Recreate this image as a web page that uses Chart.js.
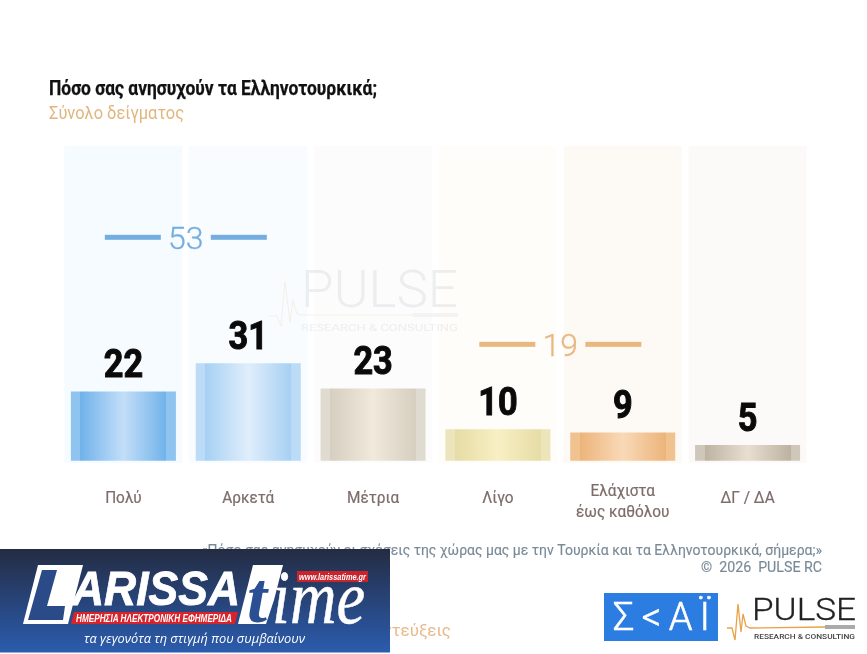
<!DOCTYPE html>
<html>
<head>
<meta charset="utf-8">
<style>
  html, body { margin: 0; padding: 0; background: #fff; }
  #wrap { position: relative; width: 867px; height: 654px; overflow: hidden; }
  #chart { position: absolute; left: 0; top: 0; }
  #overlay { position: absolute; left: 0; top: 0; }
</style>
<script src="https://cdn.jsdelivr.net/npm/chart.js@4"></script>
</head>
<body>
<div id="wrap">
  <canvas id="chart" width="867" height="654"></canvas>
  <svg id="overlay" width="867" height="654" viewBox="0 0 867 654" font-family="Roboto">
    <defs>
      <linearGradient id="bannerFill" x1="0" y1="0" x2="0" y2="1">
        <stop offset="0" stop-color="#242c43"/>
        <stop offset="1" stop-color="#2b5cae"/>
      </linearGradient>
    </defs>

    <!-- title -->
    <text x="49" y="95" font-size="20" font-weight="700" fill="#111" stroke="#111" stroke-width="0.25" textLength="328" lengthAdjust="spacingAndGlyphs">Πόσο σας ανησυχούν τα Ελληνοτουρκικά;</text>
    <text x="49" y="119" font-size="18.5" fill="#e0b67e" textLength="135" lengthAdjust="spacingAndGlyphs">Σύνολο δείγματος</text>

    <!-- watermark -->
    <g opacity="0.55">
      <text x="301" y="307" font-size="52" font-weight="300" fill="#dfe0e2" textLength="157" lengthAdjust="spacingAndGlyphs">PULSE</text>
      <polyline points="268,316 277,316 281,326 285,282 290,322 293,300 297,314 302,315 413,315" fill="none" stroke="#f3e3cf" stroke-width="1"/>
      <rect x="413" y="313" width="45" height="4" fill="#ebebeb"/>
      <text x="301" y="331" font-size="9" font-weight="400" fill="#e2e2e2" textLength="157" lengthAdjust="spacingAndGlyphs">RESEARCH &amp; CONSULTING</text>
    </g>

    <!-- footer -->
    <text x="822" y="555" text-anchor="end" font-size="15" fill="#7a8a97" stroke="#7a8a97" stroke-width="0.15" textLength="621" lengthAdjust="spacingAndGlyphs">«Πόσο σας ανησυχούν οι σχέσεις της χώρας μας με την Τουρκία και τα Ελληνοτουρκικά, σήμερα;»</text>
    <text x="822" y="572" text-anchor="end" font-size="15" fill="#7a8a97" stroke="#7a8a97" stroke-width="0.15" xml:space="preserve" textLength="121" lengthAdjust="spacingAndGlyphs">©  2026  PULSE RC</text>
    <text x="451" y="636" text-anchor="end" font-size="17" fill="#eab98a">1.000 συνεντεύξεις</text>

    <!-- banner -->
    <rect x="0" y="549" width="390" height="103.5" fill="url(#bannerFill)"/>
    <polygon points="38,565 83,565 68,624 23,624" fill="#fff"/>
    <polygon points="42,570 57,570 47,606 65,606 63,620 28,620" fill="#2a4a88"/>
    <text x="72" y="605" font-family="Liberation Sans" font-style="italic" font-weight="700" font-size="49" fill="#fff" stroke="#fff" stroke-width="0.8" textLength="168" lengthAdjust="spacingAndGlyphs">ARISSA</text>
    <polygon points="253,565 283,565 274,600 266,624 238,624" fill="#fff"/>
    <text x="247" y="622" font-family="Liberation Serif" font-style="italic" font-weight="700" font-size="72" fill="#2a4f92">t</text>
    <text x="272" y="623" font-family="Liberation Serif" font-style="italic" font-size="76" fill="#fff" stroke="#fff" stroke-width="0.5" textLength="93" lengthAdjust="spacingAndGlyphs">ime</text>
    <polygon points="74,612 238,612 235,624 71,624" fill="#d8232a"/>
    <text x="76" y="622" font-family="Liberation Sans" font-style="italic" font-weight="700" font-size="10" fill="#fff" textLength="156" lengthAdjust="spacingAndGlyphs">ΗΜΕΡΗΣΙΑ ΗΛΕΚΤΡΟΝΙΚΗ ΕΦΗΜΕΡΙΔΑ</text>
    <rect x="297" y="571" width="71" height="11" fill="#c9232c"/>
    <text x="299" y="579.5" font-family="Liberation Sans" font-style="italic" font-weight="700" font-size="8.5" fill="#fff" textLength="67" lengthAdjust="spacingAndGlyphs">www.larissatime.gr</text>
    <text x="84" y="643" font-family="Open Sans" font-style="italic" font-size="13" fill="#fff" textLength="221" lengthAdjust="spacingAndGlyphs">τα γεγονότα τη στιγμή που συμβαίνουν</text>

    <!-- SKAI logo -->
    <rect x="604" y="593" width="114" height="48" fill="#2c7de2"/>
    <text x="613" y="630" font-size="38" font-weight="300" fill="#fff" stroke="#fff" stroke-width="0.6" textLength="97" lengthAdjust="spacing">Σ&lt;ΑΪ</text>

    <!-- PULSE logo -->
    <text x="752" y="620" font-size="32" font-weight="300" fill="#222" stroke="#222" stroke-width="0.3" textLength="104" lengthAdjust="spacingAndGlyphs">PULSE</text>
    <polyline points="727,628 732,628 735,640 738,604 741,632 743,614 746,626 750,628 825,627" fill="none" stroke="#e8a24a" stroke-width="1.3"/>
    <rect x="825" y="625" width="30" height="4" fill="#aaa"/>
    <text x="754" y="639" font-size="7.5" font-weight="500" fill="#444" textLength="101" lengthAdjust="spacingAndGlyphs">RESEARCH &amp; CONSULTING</text>
  </svg>
</div>

<script>
// chart data
const categories = [['Πολύ'], ['Αρκετά'], ['Μέτρια'], ['Λίγο'], ['Ελάχιστα', 'έως καθόλου'], ['ΔΓ / ΔΑ']];
const values = [22, 31, 23, 10, 9, 5];
const panelValues = [100, 100, 100, 100, 100, 100];
const groupTotals = [53, 19];

// styles, edge / dark / centre of each bar
const barColors = [
    ['#8fc4f0', '#70b2ea', '#c3def8'],
    ['#bcdbf6', '#a6d0f3', '#e0eefb'],
    ['#e0dbd0', '#d6cfc0', '#f0e9dc'],
    ['#ece4ba', '#e6dca6', '#f8efc4'],
    ['#f0c290', '#ecb47a', '#f9d9b8'],
    ['#cfc7ba', '#bdb2a2', '#e8dfd0']
];
const panelColors = ['#f6fbff', '#f8fcff', '#fcfcfc', '#fffdf9', '#fdfaf6', '#fcfaf8'];
const groupColors = ['#74aee0', '#e8b880'];
const groupLevels = [71, 37];   // height of each bracket on the value axis
const groupMembers = [[0, 1], [3, 4]];

const barRatio = 105 / 124.8;

function barGradient(context) {
    const chart = context.chart;
    const colors = barColors[context.dataIndex];
    if (!chart.chartArea || !chart.scales.x) return colors[1];
    const xScale = chart.scales.x;
    const center = xScale.getPixelForValue(context.dataIndex);
    const half = xScale.width / categories.length * barRatio / 2;
    const g = chart.ctx.createLinearGradient(center - half, 0, center + half, 0);
    g.addColorStop(0, colors[0]);
    g.addColorStop(0.09, colors[0]);
    g.addColorStop(0.09, colors[1]);
    g.addColorStop(0.5, colors[2]);
    g.addColorStop(0.91, colors[1]);
    g.addColorStop(0.91, colors[0]);
    g.addColorStop(1, colors[0]);
    return g;
}

function squeezedText(ctx, text, x, y, squeeze, outline) {
    ctx.save();
    ctx.translate(x, y);
    ctx.scale(squeeze, 1);
    if (outline) {
        ctx.lineWidth = outline;
        ctx.strokeStyle = ctx.fillStyle;
        ctx.strokeText(text, 0, 0);
    }
    ctx.fillText(text, 0, 0);
    ctx.restore();
}

// value labels, category labels and the two brackets
const annotations = {
    id: 'annotations',
    afterDatasetsDraw(chart) {
        const ctx = chart.ctx;
        const xScale = chart.scales.x;
        const yScale = chart.scales.y;
        ctx.save();
        ctx.textAlign = 'center';
        ctx.textBaseline = 'alphabetic';

        // numbers above the bars
        ctx.fillStyle = '#0a0a0a';
        ctx.font = '700 39px Roboto';
        values.forEach(function(v, i) {
            squeezedText(ctx, String(v), xScale.getPixelForValue(i), yScale.getPixelForValue(v) - 14.5, 0.88, 1);
        });

        // category names
        ctx.fillStyle = '#7d6c6a';
        ctx.font = '400 16px Roboto';
        categories.forEach(function(lines, i) {
            const x = xScale.getPixelForValue(i);
            const startY = lines.length > 1 ? 496 : 503;
            lines.forEach(function(line, n) {
                squeezedText(ctx, line, x, startY + n * 20.5, 0.96, 0.2);
            });
        });

        // group totals
        groupTotals.forEach(function(total, i) {
            const members = groupMembers[i];
            const center = (xScale.getPixelForValue(members[0]) + xScale.getPixelForValue(members[1])) / 2;
            const y = yScale.getPixelForValue(groupLevels[i]);
            ctx.fillStyle = groupColors[i];
            ctx.fillRect(center - 81, y - 2.5, 56, 5);
            ctx.fillRect(center + 25, y - 2.5, 56, 5);
            ctx.font = '300 32px Roboto';
            squeezedText(ctx, String(total), center, y + 11.5, 1, 0.3);
        });
        ctx.restore();
    }
};

const myChart = new Chart(document.getElementById('chart').getContext('2d'), {
    type: 'bar',
    data: {
        labels: categories,
        datasets: [
            {
                label: 'Ποσοστό',
                data: values,
                backgroundColor: barGradient,
                barPercentage: barRatio,
                categoryPercentage: 1,
                grouped: false,
                order: 1
            },
            {
                label: 'Φόντο',
                data: panelValues,
                backgroundColor: panelColors,
                base: -0.7,
                barPercentage: 118 / 124.8,
                categoryPercentage: 1,
                grouped: false,
                order: 2
            }
        ]
    },
    options: {
        responsive: false,
        animation: false,
        events: [],
        layout: { padding: { left: 61, right: 57, top: 146, bottom: 190 } },
        plugins: {
            legend: { display: false },
            title: { display: false },
            tooltip: { enabled: false }
        },
        scales: {
            x: { display: false, grid: { display: false } },
            y: { display: false, min: -1, max: 100, grid: { display: false } }
        }
    },
    plugins: [annotations]
});
</script>
</body>
</html>
